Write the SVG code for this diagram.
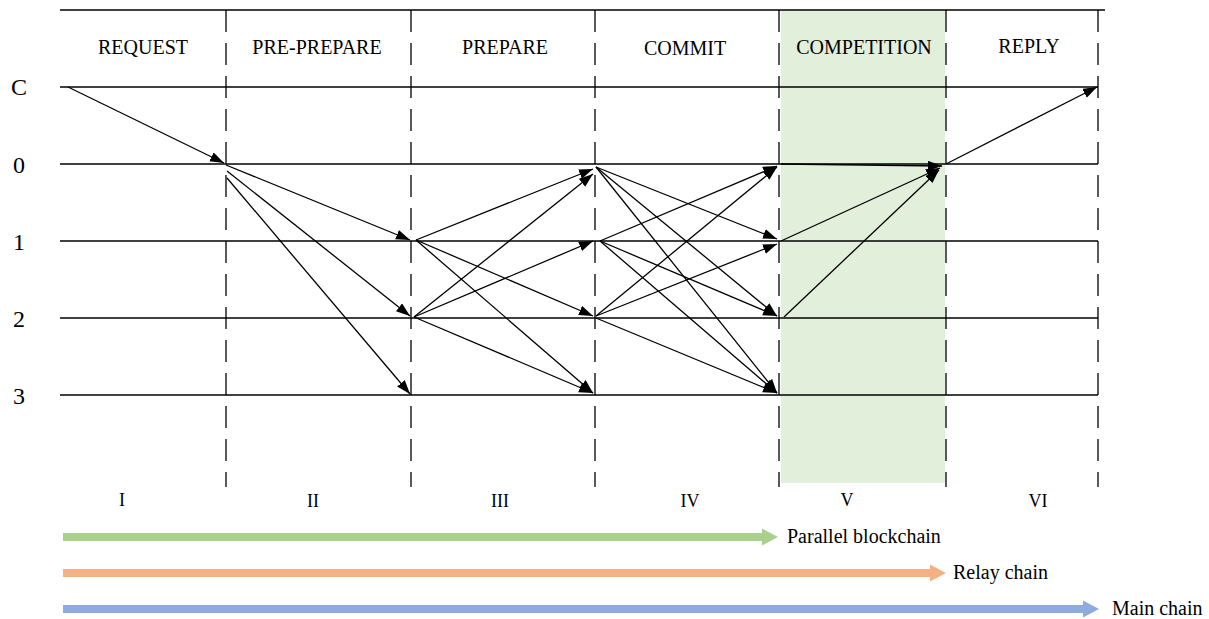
<svg xmlns="http://www.w3.org/2000/svg" width="1209" height="619" viewBox="0 0 1209 619">
<style>
.t{font-family:"Liberation Serif","Times New Roman",serif;fill:#000}
.hd{font-size:20px;text-anchor:middle}
.rw{font-size:24px;text-anchor:middle}
.rm{font-size:18px;text-anchor:middle}
.lg{font-size:20px}
.hl{stroke:#000;stroke-width:1.3;fill:none}
.dl{stroke:#000;stroke-width:1.3;stroke-dasharray:22 11;fill:none}
.ar{stroke:#000;stroke-width:1.3;fill:none;marker-end:url(#ah)}
</style>
<defs>
<marker id="ah" markerUnits="userSpaceOnUse" markerWidth="15" markerHeight="11" refX="14" refY="5" orient="auto">
<path d="M0,0 L14,5 L0,10 z" fill="#000"/>
</marker>
</defs>
<rect width="1209" height="619" fill="#fff"/>
<rect id="competition-zone" x="781" y="10" width="164" height="473" fill="#e2efda"/>
<g id="grid">
<line class="hl" x1="60" y1="10" x2="1105" y2="10"/>
<line class="hl" x1="60" y1="87" x2="1098" y2="87"/>
<line class="hl" x1="60" y1="164" x2="1098" y2="164"/>
<line class="hl" x1="60" y1="241" x2="1098" y2="241"/>
<line class="hl" x1="60" y1="318" x2="1098" y2="318"/>
<line class="hl" x1="60" y1="395" x2="1098" y2="395"/>
<line class="dl" x1="226" y1="10" x2="226" y2="487"/>
<line class="dl" x1="411" y1="10" x2="411" y2="487"/>
<line class="dl" x1="595" y1="10" x2="595" y2="487"/>
<line class="dl" x1="779" y1="10" x2="779" y2="487"/>
<line class="dl" x1="946" y1="10" x2="946" y2="487"/>
<line class="dl" x1="1098" y1="10" x2="1098" y2="487"/>
</g>
<g id="phase-labels">
<text class="t hd" x="143" y="54">REQUEST</text>
<text class="t hd" x="317" y="54">PRE-PREPARE</text>
<text class="t hd" x="505" y="54">PREPARE</text>
<text class="t hd" x="685" y="55">COMMIT</text>
<text class="t hd" x="864" y="54">COMPETITION</text>
<text class="t hd" x="1029" y="53">REPLY</text>
</g>
<g id="row-labels">
<text class="t rw" x="19" y="95">C</text>
<text class="t rw" x="19" y="173">0</text>
<text class="t rw" x="19" y="250">1</text>
<text class="t rw" x="19" y="327">2</text>
<text class="t rw" x="19" y="404">3</text>
</g>
<g id="stage-numbers">
<text class="t rm" x="122" y="506">I</text>
<text class="t rm" x="313" y="507">II</text>
<text class="t rm" x="500" y="507">III</text>
<text class="t rm" x="690" y="507">IV</text>
<text class="t rm" x="847" y="506">V</text>
<text class="t rm" x="1038" y="507">VI</text>
</g>
<g id="connectors">
<line class="ar" x1="68" y1="87" x2="224" y2="163"/>
<line class="ar" x1="226" y1="165" x2="410" y2="240"/>
<line class="ar" x1="227" y1="171" x2="410" y2="316"/>
<line class="ar" x1="227" y1="178" x2="410" y2="394"/>
<line class="ar" x1="416" y1="240" x2="593" y2="169"/>
<line class="ar" x1="416" y1="240" x2="593" y2="316"/>
<line class="ar" x1="416" y1="240" x2="593" y2="393"/>
<line class="ar" x1="414" y1="317" x2="593" y2="174"/>
<line class="ar" x1="414" y1="317" x2="593" y2="241"/>
<line class="ar" x1="414" y1="317" x2="593" y2="393"/>
<line class="ar" x1="596" y1="167" x2="777" y2="239"/>
<line class="ar" x1="596" y1="167" x2="777" y2="316"/>
<line class="ar" x1="596" y1="167" x2="777" y2="393"/>
<line class="ar" x1="600" y1="241" x2="777" y2="166"/>
<line class="ar" x1="600" y1="241" x2="777" y2="316"/>
<line class="ar" x1="600" y1="241" x2="777" y2="393"/>
<line class="ar" x1="596" y1="316" x2="777" y2="167"/>
<line class="ar" x1="596" y1="316" x2="777" y2="244"/>
<line class="ar" x1="596" y1="318" x2="777" y2="393"/>
<line class="ar" x1="781" y1="164" x2="942" y2="166"/>
<line class="ar" x1="781" y1="241" x2="940" y2="168"/>
<line class="ar" x1="784" y1="317" x2="939" y2="170"/>
<line class="ar" x1="946" y1="164" x2="1097" y2="87"/>
</g>
<g id="chain-legend">
<g id="parallel-blockchain">
<path d="M63,533 L762,533 L762,528.5 L778,537 L762,545.5 L762,541 L63,541 z" fill="#a9d18e"/>
<text class="t lg" x="787" y="543">Parallel blockchain</text>
</g>
<g id="relay-chain">
<path d="M63,569 L930,569 L930,564.5 L946,573 L930,581.5 L930,577 L63,577 z" fill="#f4b183"/>
<text class="t lg" x="953" y="579">Relay chain</text>
</g>
<g id="main-chain">
<path d="M63,605 L1083,605 L1083,600.5 L1099,609 L1083,617.5 L1083,613 L63,613 z" fill="#8faadc"/>
<text class="t lg" x="1112" y="615">Main chain</text>
</g>
</g>
</svg>
